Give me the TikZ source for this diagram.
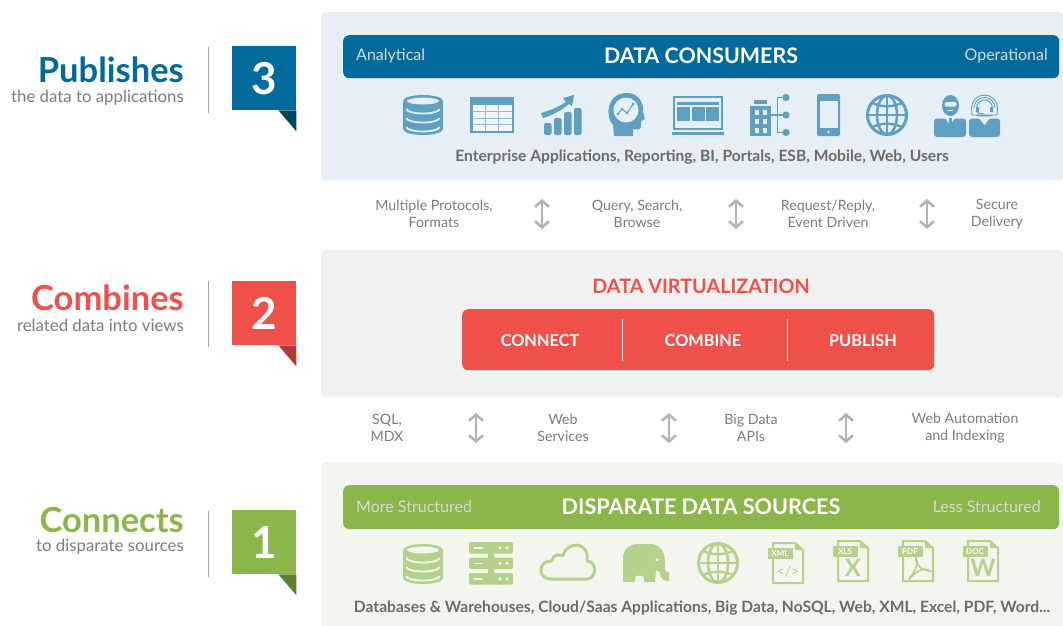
\documentclass[tikz,border=0pt]{standalone}
\usepackage{fontspec}
\setmainfont{Lato}
\usetikzlibrary{arrows.meta,positioning}

\definecolor{bluebar}{HTML}{006A9C}
\definecolor{bluedark}{HTML}{03475E}
\definecolor{blueicon}{HTML}{5F9FC2}
\definecolor{bluepanel}{HTML}{E6EFF5}
\definecolor{redbar}{HTML}{F0504A}
\definecolor{reddark}{HTML}{B03A35}
\definecolor{greypanel}{HTML}{F1F1F1}
\definecolor{greenbar}{HTML}{8BB64A}
\definecolor{greendark}{HTML}{5F8030}
\definecolor{greenicon}{HTML}{B5D18C}
\definecolor{greenpanel}{HTML}{F3F6EE}
\definecolor{textgrey}{HTML}{6B6B6B}
\definecolor{subgrey}{HTML}{7C7C7C}
\definecolor{arrowgrey}{HTML}{B3B3B3}

\tikzset{
  pics/dbicon/.style 2 args={code={
    \fill[#1] (-20,-14) arc[start angle=180,end angle=360,x radius=20,y radius=6] -- (20,14) arc[start angle=0,end angle=180,x radius=20,y radius=6] -- cycle;
    \fill[#2] (0,-14) ellipse[x radius=16,y radius=3.4];
    \foreach \yy in {-6,3,12}
      \draw[#2,line width=1.8] (-16.5,\yy) arc[start angle=180,end angle=0,x radius=16.5,y radius=4.5];
  }},
  pics/globeicon/.style 2 args={code={
    \draw[#1,line width=3] (0,0) circle[radius=19.5];
    \draw[#1,line width=2.6] (0,0) ellipse[x radius=10,y radius=19.5];
    \draw[#1,line width=2.6] (0,-19.5) -- (0,19.5) (-19.5,0) -- (19.5,0);
    \draw[#1,line width=2.4] (-15,-12) to[bend right=22] (15,-12);
    \draw[#1,line width=2.4] (-15,12) to[bend left=22] (15,12);
  }},
  pics/docicon/.style n args={3}{code={
    \draw[#1,line width=2] (-15,-20) -- (7,-20) -- (15,-13) -- (15,20) -- (-15,20) -- cycle;
    \fill[#1] (7,-20) -- (7,-13) -- (15,-13) -- cycle;
    \node[fill=#1,inner sep=0pt,minimum width=25,minimum height=11,text=white,font=\bfseries\fontsize{8}{8}\selectfont] (#3tag) at (-8,-9.5) {#3};
    #2
  }},
}

\begin{document}
\begin{tikzpicture}[x=1pt,y=-1pt,font=\fontsize{14}{17}\selectfont]

        \tikzstyle{panel}=[shape=rectangle,rounded corners=4,anchor=north west,minimum width=742,inner sep=0pt]
        \tikzstyle{bar}=[shape=rectangle,rounded corners=6,anchor=north west,minimum width=716,minimum height=43,inner sep=0pt]
        \tikzstyle{bartitle}=[text=white,font=\bfseries\fontsize{21.4}{23}\selectfont]
        \tikzstyle{barside}=[inner sep=0pt,text=white!85!black,font=\fontsize{16}{18}\selectfont]
        \tikzstyle{heading}=[anchor=east,inner sep=0pt,font=\bfseries\fontsize{34.5}{38}\selectfont]
        \tikzstyle{subheading}=[anchor=east,inner sep=0pt,text=subgrey,font=\fontsize{16.8}{18}\selectfont]
        \tikzstyle{numberbox}=[anchor=north west,minimum size=64,inner sep=0pt,text=white,font=\bfseries\fontsize{44}{48}\selectfont]
        \tikzstyle{caption}=[text=textgrey,font=\bfseries\fontsize{15.6}{17}\selectfont]
        \tikzstyle{protocol}=[align=center,text=subgrey,font=\fontsize{14.2}{17}\selectfont]
        \tikzstyle{stage}=[text=white,font=\bfseries\fontsize{16.3}{18}\selectfont]
        \tikzstyle{updown}=[arrowgrey,line width=2.6,{Straight Barb[length=6,width=14]}-{Straight Barb[length=6,width=14]}]
        \tikzstyle{sepline}=[draw=subgrey!70,line width=1]

        \useasboundingbox (0,0) rectangle (1063,625);

        % panels
        \node[panel,fill=bluepanel,minimum height=168] (P3) at (321,12) {};
        \node[panel,fill=greypanel,minimum height=147] (P2) at (321,250) {};
        \node[panel,fill=greenpanel,minimum height=170,rounded corners=4] (P1) at (321,462) {};

        % consumers
        \node[bar,fill=bluebar] (B3) at (343,35) {};
        \node[bartitle] (B3T) at (701,55.5) {DATA CONSUMERS};
        \node[barside,anchor=west] (B3L) at (356,56) {Analytical};
        \node[barside,anchor=east] (B3R) at (1048,56) {Operational};
        \node[caption] (C3) at (702,157) {Enterprise Applications, Reporting, BI, Portals, ESB, Mobile, Web, Users};

        % icons for consumers
        \pic at (423,115) {dbicon={blueicon}{bluepanel}};
        \fill[blueicon] (470,97) rectangle (514,133);
        \fill[bluepanel!60!white] (472.5,105) rectangle (511.5,131);
        \draw[blueicon!70!white,line width=0.8] (472,111.5) -- (512,111.5) (472,118) -- (512,118) (472,124.5) -- (512,124.5) (485.5,105) -- (485.5,131) (498.5,105) -- (498.5,131);
        \foreach \xa/\ya in {544/123,554/118,564/112,574/108}
          \fill[blueicon,rounded corners=2] (\xa,\ya) rectangle (\xa+7.5,135);
        \fill[blueicon] (541,113) .. controls (552,110) and (560,106) .. (566,102) -- (563,98) -- (574,95) -- (572,106) -- (569,104) .. controls (562,110) and (553,115) .. (543,118) -- cycle;
        % head
        \fill[blueicon] (614,136) -- (613,125) .. controls (605,117) and (606,93) .. (627,93) .. controls (640,93) and (644,105) .. (643,112) -- (645,119) -- (641,121) -- (641,127) .. controls (640,131) and (636,129) .. (633,129) -- (633,136) -- cycle;
        \fill[bluepanel] (626,110) circle[radius=12.5];
        \draw[blueicon,line width=1] (618,114) -- (622,109) -- (627,113) -- (633,104);
        \foreach \xa/\ya in {618/114,622/109,627/113,633/104}
          \fill[blueicon] (\xa,\ya) circle[radius=1.5];
        % laptop
        \draw[blueicon,line width=2] (674,97) rectangle (722,129);
        \fill[blueicon] (671.5,132) rectangle (724,134.5);
        \fill[blueicon] (677,102) rectangle (719,105);
        \foreach \xa in {677,691.5,705.5}
          \fill[blueicon] (\xa,107) rectangle (\xa+13,121);
        % building
        \fill[blueicon] (750,106) rectangle (771,136);
        \fill[blueicon] (754,100) rectangle (767,104);
        \foreach \xa in {754.5,762.5} \foreach \ya in {110,119,128}
          \fill[bluepanel] (\xa,\ya) rectangle (\xa+4.5,\ya+4.5);
        \draw[blueicon,line width=1.4] (771,115) -- (786,115) (786,97.5) -- (777.5,97.5) -- (777.5,132.5) -- (786,132.5);
        \foreach \ya in {97.5,115,132.5}
          \fill[blueicon] (786,\ya) circle[radius=3.6];
        % phone
        \fill[blueicon,rounded corners=2] (817,94) rectangle (840,136);
        \fill[bluepanel] (819.5,101) rectangle (837.5,128);
        \fill[bluepanel] (828.5,132) circle[radius=1.2];
        \pic at (887,115) {globeicon={blueicon}{bluepanel}};
        % users
        \fill[blueicon,rounded corners=3] (934,118.5) rectangle (966,137);
        \fill[bluepanel] (945,118) -- (955,118) -- (950,125) -- cycle;
        \fill[blueicon] (950.5,105.5) ellipse[x radius=8.5,y radius=10.5];
        \fill[bluepanel,rounded corners=1.5] (944.5,102) rectangle (956.5,106.5);
        \fill[bluepanel] (948,109.5) rectangle (953,110.5);
        \fill[blueicon] (949,118) rectangle (952,128);
        \fill[blueicon,rounded corners=3] (969,118.5) rectangle (1000,137);
        \fill[bluepanel] (979,118) -- (990,118) -- (984.5,125) -- cycle;
        \foreach \rr in {8,10.5,13}
          \draw[blueicon,line width=0.9] (984.5-\rr,108) arc[start angle=180,end angle=360,radius=\rr];
        \draw[blueicon,line width=0.9] (971.5,108) -- (972,115) -- (979,115) (997.5,108) -- (997,115) -- (990,115);
        \fill[blueicon] (976,107) rectangle (979,112) (990,107) rectangle (993,112);
        \draw[blueicon,line width=1] (984.5,115.5) ellipse[x radius=6,y radius=0.5];
        \draw[blueicon,line width=1] (977.5,111) -- (978,113) -- (984,114);

        % number boxes
        \node[numberbox,fill=bluebar] (N3) at (232,46) {3};
        \fill[bluedark] (N3.south east) -- ++(-18,0) -- ++(18,21) -- cycle;
        \node[numberbox,fill=redbar] (N2) at (232,281) {2};
        \fill[reddark] (N2.south east) -- ++(-18,0) -- ++(18,21) -- cycle;
        \node[numberbox,fill=greenbar] (N1) at (232,510) {1};
        \fill[greendark] (N1.south east) -- ++(-18,0) -- ++(18,21) -- cycle;

        % left labels
        \node[heading,text=bluebar] (H3) at (184,70) {Publishes};
        \node[subheading] (S3) at (184,98) {the data to applications};
        \node[heading,text=redbar] (H2) at (184,298) {Combines};
        \node[subheading] (S2) at (184,325) {related data into views};
        \node[heading,text=greenbar] (H1) at (184,520) {Connects};
        \node[subheading] (S1) at (184,547) {to disparate sources};

        \coordinate (L3a) at (208,47);
        \coordinate (L3b) at (208,113);
        \coordinate (L2a) at (208,281);
        \coordinate (L2b) at (208,347);
        \coordinate (L1a) at (208,511);
        \coordinate (L1b) at (208,577);
        \path [sepline] (L3a) edge (L3b) (L2a) edge (L2b) (L1a) edge (L1b);

        % upper protocols
        \node[protocol] (U1) at (434,214) {Multiple Protocols,\\Formats};
        \node[protocol] (U2) at (637,214) {Query, Search,\\Browse};
        \node[protocol] (U3) at (828,214) {Request/Reply,\\Event Driven};
        \node[protocol] (U4) at (997,214) {Secure\\Delivery};
        \foreach \xa/\nam in {542/ua,736/ub,927/uc} {
          \coordinate (\nam1) at (\xa,199);
          \coordinate (\nam2) at (\xa,229);
          \path [updown] (\nam1) edge (\nam2);
        }

        % virtualization
        \node[font=\bfseries\fontsize{19.8}{22}\selectfont,text=redbar] (V) at (701,286) {DATA VIRTUALIZATION};
        \node[bar,fill=redbar,minimum width=472,minimum height=61] (B2) at (462,309) {};
        \node[stage] (V1) at (540,340.5) {CONNECT};
        \node[stage] (V2) at (703,340.5) {COMBINE};
        \node[stage] (V3) at (863,340.5) {PUBLISH};
        \coordinate (D1a) at (622,319);
        \coordinate (D1b) at (622,361);
        \coordinate (D2a) at (787,319);
        \coordinate (D2b) at (787,361);
        \path [draw=white,line width=1] (D1a) edge (D1b) (D2a) edge (D2b);

        % lower protocols
        \node[protocol] (W1) at (387,428) {SQL,\\MDX};
        \node[protocol] (W2) at (563,428) {Web\\Services};
        \node[protocol] (W3) at (751,428) {Big Data\\APIs};
        \node[protocol] (W4) at (965,428) {Web Automation\\and Indexing};
        \foreach \xa/\nam in {476/wa,669/wb,846/wc} {
          \coordinate (\nam1) at (\xa,413);
          \coordinate (\nam2) at (\xa,443);
          \path [updown] (\nam1) edge (\nam2);
        }

        % sources
        \node[bar,fill=greenbar,minimum height=44] (B1) at (343,485) {};
        \node[bartitle,font=\bfseries\fontsize{21.6}{23}\selectfont] (B1T) at (701,507) {DISPARATE DATA SOURCES};
        \node[barside,anchor=west] (B1L) at (356,506.5) {More Structured};
        \node[barside,anchor=east] (B1R) at (1041,506.5) {Less Structured};
        \node[caption] (C1) at (702,608) {Databases \& Warehouses, Cloud/Saas Applications, Big Data, NoSQL, Web, XML, Excel, PDF, Word...};

        % icons for sources
        \pic at (423,564) {dbicon={greenicon}{greenpanel}};
        % server
        \fill[greenicon] (488,550) rectangle (494,576);
        \foreach \ya in {542,557.5,573} {
          \fill[greenicon,rounded corners=2] (469,\ya) rectangle (513,\ya+11.5);
          \fill[greenpanel] (474,\ya+5) rectangle (483,\ya+6.5);
          \fill[greenpanel] (500,\ya+5.8) circle[radius=1.8] (507,\ya+5.8) circle[radius=1.8];
        }
        % cloud
        \draw[greenicon,line width=3,rounded corners=1] (552,579) .. controls (537,579) and (538,561) .. (552,561) .. controls (553,555) and (559,554) .. (563,556) .. controls (567,541) and (589,541) .. (587,561) .. controls (598,563) and (596,579) .. (586,579) -- cycle;
        % elephant
        \fill[greenicon] (623,582) -- (623,558) .. controls (623,549) and (630,544) .. (637,544) -- (650,544) .. controls (660,544) and (665,552) .. (665,562) -- (665,568) .. controls (665,571) and (666,572) .. (669,572) -- (669,581) .. controls (663,581) and (660,578) .. (660,572) -- (656,570) -- (655,582) -- (644,582) -- (644,577) .. controls (642,575) and (637,575) .. (635,577) -- (635,582) -- cycle;
        \fill[greenpanel] (657,560) circle[radius=1.6];
        \pic at (718,563) {globeicon={greenicon}{greenpanel}};
        % documents
        \pic at (788,563) {docicon={greenicon}{\node[text=greenicon,font=\fontsize{14}{14}\selectfont,inner sep=0pt] at (0,9) {</>};}{XML}};
        \pic at (853,561) {docicon={greenicon}{\node[text=greenicon,font=\bfseries\fontsize{24}{24}\selectfont,inner sep=0pt] at (0,7) {X};}{XLS}};
        \pic at (918,561) {docicon={greenicon}{\draw[greenicon,line width=1.6] (-9,18) .. controls (-2,10) and (1,0) .. (-2,-3) .. controls (-4,1) and (3,10) .. (12,10) .. controls (5,5) and (-3,12) .. (-9,18);}{PDF}};
        \pic at (983,561) {docicon={greenicon}{\node[text=greenicon,font=\bfseries\fontsize{24}{24}\selectfont,inner sep=0pt] at (0,7) {W};}{DOC}};

      \end{tikzpicture}
\end{document}
